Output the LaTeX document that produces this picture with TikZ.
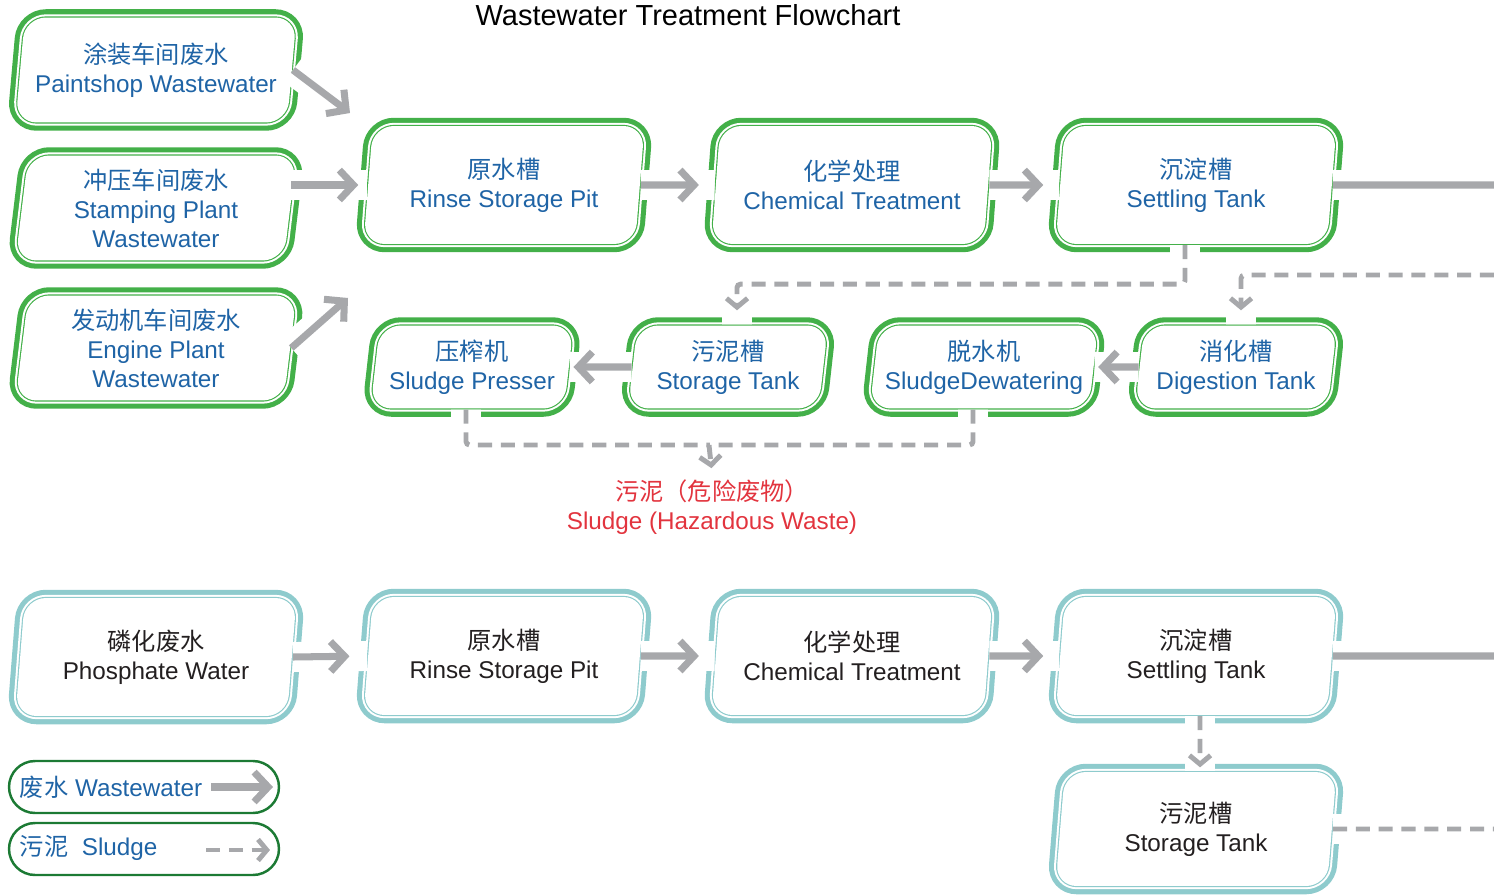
\documentclass[tikz,border=0pt]{standalone}
\usepackage{fontspec}
\setmainfont{Liberation Sans}
\newfontfamily\cjk{Noto Sans CJK SC}
\usetikzlibrary{arrows.meta,shapes.geometric}

\definecolor{boxgreen}{RGB}{67,176,73}
\definecolor{boxteal}{RGB}{142,203,205}
\definecolor{keygreen}{RGB}{28,122,52}
\definecolor{flowgray}{RGB}{167,168,171}
\definecolor{textblue}{RGB}{31,100,166}
\definecolor{textdark}{RGB}{35,31,32}
\definecolor{hazred}{RGB}{226,52,62}

\newcommand\boxfont{\fontsize{13.8}{16.5}\selectfont}

\tikzset{
  tank/.style={trapezium, trapezium left angle=82, trapezium right angle=98,
    trapezium stretches body, rounded corners=12pt, align=center, font=\boxfont,
    preaction={draw=#1, line width=9.4pt},
    preaction={draw=white, line width=3.6pt},
    draw=#1, line width=1.3pt, postaction={fill=white}},
  wastebox/.style={tank=boxgreen, text=textblue},
  phosbox/.style={tank=boxteal, text=textdark},
  srcsize/.style={minimum width=5.62cm, minimum height=2.1cm},
  mainsize/.style={minimum width=5.62cm, minimum height=2.36cm},
  mudsize/.style={minimum width=#1, minimum height=1.66cm},
  cut/.style={preaction={draw=white, line width=17pt, arrows=-, solid,
    shorten >=0pt, shorten <=0pt}},
  flow/.style={draw=flowgray, line width=4pt, >={Straight Barb[length=8pt,width=17pt]}},
  sludge/.style={draw=flowgray, line width=2.8pt, dash pattern=on 8pt off 5pt,
    rounded corners=2pt, >={Straight Barb[length=5pt,width=12pt]}},
  keybox/.style={draw=keygreen, line width=1.4pt, rounded corners=0.52cm,
    minimum width=5.4cm, minimum height=1.04cm},
  keytext/.style={anchor=west, text=textblue, font=\boxfont, inner sep=2pt}
}

\begin{document}
\begin{tikzpicture}[x=0.02cm, y=-0.02cm]
  \useasboundingbox (0,0) rectangle (1494,895);

  \node[font=\fontsize{16.5}{20}\selectfont] (title) at (688,15) {Wastewater Treatment Flowchart};

  % sources
  \node[wastebox, srcsize] (paint) at (156,70) {{\cjk 涂装车间废水}\\Paintshop Wastewater};
  \node[wastebox, srcsize] (stamp) at (156,208) {{\cjk 冲压车间废水}\\Stamping Plant\\Wastewater};
  \node[wastebox, srcsize] (engine) at (156,348) {{\cjk 发动机车间废水}\\Engine Plant\\Wastewater};

  % wastewater line
  \node[wastebox, mainsize] (rinse) at (504,185) {{\cjk 原水槽}\\Rinse Storage Pit};
  \node[wastebox, mainsize] (chem) at (852,185) {{\cjk 化学处理}\\Chemical Treatment};
  \node[wastebox, mainsize] (settle) at (1196,185) {{\cjk 沉淀槽}\\Settling Tank};

  % sludge line
  \node[wastebox, mudsize=4.06cm] (press) at (472,367) {{\cjk 压榨机}\\Sludge Presser};
  \node[wastebox, mudsize=4.0cm] (store) at (728,367) {{\cjk 污泥槽}\\Storage Tank};
  \node[wastebox, mudsize=4.32cm] (dewater) at (984,367) {{\cjk 脱水机}\\SludgeDewatering};
  \node[wastebox, mudsize=4.04cm] (digest) at (1236,367) {{\cjk 消化槽}\\Digestion Tank};

  \node[text=hazred, align=center, font=\boxfont] (hazard) at (712,507)
    {{\cjk 污泥（危险废物）}\\Sludge (Hazardous Waste)};

  % phosphate line
  \node[phosbox, mainsize] (phos) at (156,657) {{\cjk 磷化废水}\\Phosphate Water};
  \node[phosbox, mainsize] (rinse2) at (504,656) {{\cjk 原水槽}\\Rinse Storage Pit};
  \node[phosbox, mainsize] (chem2) at (852,656) {{\cjk 化学处理}\\Chemical Treatment};
  \node[phosbox, mainsize] (settle2) at (1196,656) {{\cjk 沉淀槽}\\Settling Tank};
  \node[phosbox, minimum width=5.62cm, minimum height=2.28cm] (store2) at (1196,829) {{\cjk 污泥槽}\\Storage Tank};

  \coordinate (paintend) at (350,113);
  \coordinate (engineend) at (348,298);
  \coordinate (out1) at (1494,185);
  \coordinate (out2) at (1494,275);
  \coordinate (out3) at (1494,656);
  \coordinate (out4) at (1494,829);
  \coordinate (join) at (709,445);

  \draw[flow, cut, ->] (paint.east) -- (paintend);
  \draw[flow, cut, ->, shorten >=5pt] (stamp.east |- rinse.west) -- (rinse.west);
  \draw[flow, cut, ->] (engine.east) -- (engineend);
  \draw[flow, cut, ->, shorten >=9pt] (rinse.east) -- (chem.west);
  \draw[flow, cut, ->, shorten >=9pt] (chem.east) -- (settle.west);
  \draw[flow, cut] (settle.east) -- (out1);

  \draw[sludge, cut, ->, shorten >=8pt] ([xshift=-0.22cm]settle.south) -- ++(0,39) -| ([xshift=0.18cm]store.north);
  \draw[sludge, cut, ->, shorten >=8pt] (out2) -| ([xshift=0.1cm]digest.north);
  \draw[flow, cut, ->, shorten >=2pt] (digest.west) -- (dewater.east);
  \draw[flow, cut, ->, shorten >=2pt] (store.west) -- (press.east);
  \draw[sludge, cut] ([xshift=-0.12cm]press.south) |- (join);
  \draw[sludge, cut] ([xshift=-0.22cm]dewater.south) |- (join);
  \draw[sludge, ->, shorten >=3pt] (join) -- (hazard.north);

  \draw[flow, cut, ->, shorten >=10pt] (phos.east) -- (rinse2.west);
  \draw[flow, cut, ->, shorten >=9pt] (rinse2.east) -- (chem2.west);
  \draw[flow, cut, ->, shorten >=9pt] (chem2.east) -- (settle2.west);
  \draw[flow, cut] (settle2.east) -- (out3);
  \draw[sludge, cut, ->, shorten >=2pt] ([xshift=0.08cm]settle2.south) -- ([xshift=0.08cm]store2.north);
  \draw[sludge, cut] (store2.east) -- (out4);

  % legend
  \node[keybox] (keyw) at (144,787) {};
  \node[keybox] (keys) at (144,849) {};
  \node[keytext] (keywtext) at (16,787) {{\cjk 废水} Wastewater};
  \node[keytext] (keystext) at (16,848) {{\cjk 污泥}\ \ Sludge};
  \coordinate (keywend) at (273,787);
  \coordinate (keysstart) at (206,850);
  \coordinate (keysend) at (270,850);
  \draw[flow, ->, shorten <=3pt] (keywtext.east) -- (keywend);
  \draw[sludge, ->] (keysstart) -- (keysend);
\end{tikzpicture}
\end{document}
